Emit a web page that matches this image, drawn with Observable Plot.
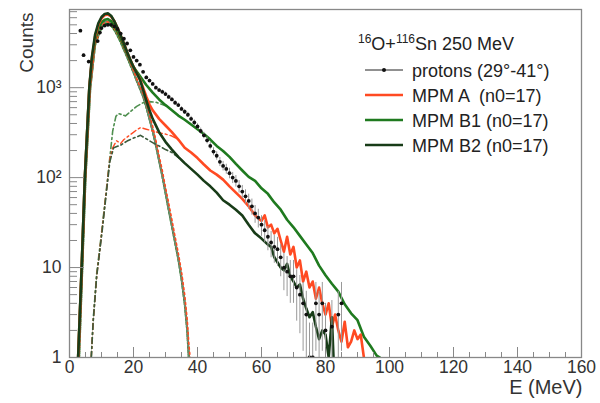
<!DOCTYPE html>
<html>
<head>
<meta charset="utf-8">
<script src="https://cdn.jsdelivr.net/npm/d3@7"></script>
<script src="https://cdn.jsdelivr.net/npm/@observablehq/plot@0.6"></script>
<style>
  html, body { margin: 0; padding: 0; background: white; }
  #chart { position: relative; width: 600px; height: 403px; }
</style>
</head>
<body>
<div id="chart"></div>
<script>
// ---------- data ----------
const xMajor = [0, 20, 40, 60, 80, 100, 120, 140, 160];
const yMajor = [1, 10, 100, 1000];
const yLabels = ["1", "10", "10²", "10³"];

// protons (29°-41°), experimental points
const protonE = [3.4,4.4,6,8.8,9.5,10,11,12,13,14,15,16,17,18,19,20,21,22,23,24,25,26,27,28,29,30,31,32,33,34,35,36,37,38,39,40,41,42,43,44,45,46,47,48,49,50,51,52,53,54,55,56,57,58,59,60,61,62,63,64,65,66,67,68,69,70,71,72,73,74,75,76,77,78,79,80,82,84,85];
const protonN = [4300,2300,1950,3300,4100,4600,4900,5000,5000,4800,4500,4000,3500,3100,2600,2200,2000,1800,1500,1300,1200,1100,1000,940,900,850,790,740,680,640,580,540,500,450,410,370,330,295,260,225,195,175,150,135,125,112,100,92,80,70,62,55,48,40,36,30,26,22,19,17,16,13,10,9,8,8,6,5,4,3,1,1,4,3,4,2,2.2,3,4];

// MPM A (total)
const mpmAE = [2.7,3.8,4.8,6.2,7,8,9,10,11,12,13,14,15,16,17,18,19,20,21,22,23,24,25,26,28,30,32,34,36,38,40,42,44,46,48,50,52,54,56,58,60,61,62,63,64,65,66,67,68,69,70,71,72,73,74,75,76,77,78,79,80,81,82,83,84,85,86,87,88,89,90,91,92];
const mpmAN = [1,10,100,1000,2100,3700,5000,5900,6400,6500,6200,5500,4600,3800,3100,2500,2050,1700,1450,1250,1000,800,650,560,450,380,320,265,215,190,165,140,120,108,95,80,68,58,48,38,33,38,28,30,24,27,20,15,22,14,17,10,12,7,9,6,7,4.5,6,4,3,4,2.2,3,2,1.5,2.5,1.3,1.5,2,1.6,1.8,1];

// MPM B1 (total)
const mpmB1E = [2.7,3.8,4.8,6.2,7,8,9,10,11,12,13,14,15,16,17,18,19,20,22,24,26,28,30,32,34,36,38,40,42,44,46,48,50,52,54,56,58,60,62,64,66,68,70,72,74,76,78,80,82,84,86,88,90,92,94,96,97];
const mpmB1N = [1,10,100,1000,2000,3400,4500,5300,5700,5800,5500,4900,4200,3500,2900,2400,2000,1700,1350,1070,880,740,640,560,490,440,390,345,305,265,225,198,170,142,120,102,92,76,66,53,44,34,28,22.5,18,14.5,10.5,8.2,6.6,5.4,3.9,3.1,2.6,1.7,1.35,1.05,1];

// MPM B2 (total)
const mpmB2E = [2.7,3.8,4.8,6.2,7,8,9,10,11,12,13,14,15,16,17,18,19,20,21,22,23,24,25,26,28,30,32,34,36,38,40,42,44,46,48,50,52,54,56,58,60,62,63,64,66,67,68,69,70,71,72,73,74,75,76,77,78,79,80,81,82,82.5];
const mpmB2N = [1,10,100,1000,2200,3900,5200,6100,6600,6700,6300,5500,4600,3800,3100,2500,2050,1700,1450,1230,950,720,560,450,320,250,205,170,145,125,108,92,80,68,56,50,44,38,30,24,21,18,17,13,10,9.3,11,8,7,6,6.5,4.5,3.5,2.8,3.2,2.2,1.6,2,1.8,1,2.8,1];

// dotted (low-energy) components
const lowE  = [3,4,5,6.5,8,10,11,12,13,14,15,16,17,18,19,20,21,22,23,24,25,26,27,28,29,30,31,32,33,34,35,36,36.8,37.3];
const lowB1 = [1,10,100,1000,3000,4700,5100,5200,4900,4400,3800,3200,2650,2200,1800,1480,1200,980,800,610,450,330,230,155,105,68,44,29,19,12.5,7.5,4,2,1];
const lowB2 = [1,10,100,1000,3100,4900,5400,5500,5200,4600,3900,3300,2700,2250,1850,1500,1210,990,810,620,455,335,232,156,106,69,45,29.5,19.5,12.8,7.7,4.1,2.05,1];
const lowAE = [3,4,5,6.5,8,10,11,12,13,14,15,16,17,18,19,20,21,22,23,24,25,26,27,28,29,30,31,32,33,34,35,36,36.8,37.3,37.7];
const lowA  = [1,10,100,1000,3050,4800,5300,5400,5100,4550,3950,3350,2750,2300,1900,1550,1260,1040,860,680,500,370,260,175,120,78,52,34,22,14.5,9,5,2.6,1.4,1];

// dash-dot (high-energy) components
const preB1E = [6.8,7.4,8.5,10,11.6,12.6,13.5,14.5,15.3,16.5,17.5,19,21,23,25,27,29,30];
const preB1  = [1,2.6,8.6,24,78,166,330,480,515,500,485,540,620,680,700,690,650,630];
const preAE  = [6.8,7.4,8.5,10,11.6,12.6,13.5,14.7,16,17,19,21,22.2,24,26,28,30,32,34];
const preA   = [1,2.5,8,23,75,160,215,257,240,265,300,340,360,345,330,315,305,290,265];
const preB2E = [6.8,7.4,8.5,10,11.6,12.6,13.8,16,18,20,22.2,24,26.4,28,30,32,34,36];
const preB2  = [1,2.5,8,22,72,150,215,230,255,275,295,270,240,225,205,190,168,145];

// ---------- helpers ----------
const cRed = "#ff4a22", cB1 = "#1f7a1f", cB2 = "#183c18";
const zip = (xs, ys) => xs.slice(0, Math.min(xs.length, ys.length)).map((x, i) => ({x, y: ys[i]}));
const protons = zip(protonE, protonN);

const W = 600, H = 403, mL = 69, mR = 19, mT = 9, mB = 46;
const fw = W - mL - mR, fh = H - mT - mB;
const yMinor = [];
for (let k = 0; k < 4; k++) for (let m = 2; m <= 9; m++) { const v = m * 10 ** k; if (v < 7400) yMinor.push(v); }
const xMinor = d3.range(0, 161, 5).filter(v => v % 20 !== 0);

const plot = Plot.plot({
  width: W, height: H,
  marginLeft: mL, marginRight: mR, marginTop: mT, marginBottom: mB,
  style: {fontFamily: "'Liberation Sans', Arial, sans-serif", fontSize: "17.5px", color: "#222", background: "white"},
  x: {domain: [0, 160], label: null},
  y: {type: "log", domain: [1, 7400], label: null},
  marks: [
    // components
    Plot.line(zip(lowE, lowB1), {x: "x", y: "y", stroke: cB1, strokeWidth: 2.2, strokeDasharray: "2,2", clip: true}),
    Plot.line(zip(lowE, lowB2), {x: "x", y: "y", stroke: "#6f8a6f", strokeWidth: 2.2, strokeDasharray: "2,2", strokeDashoffset: 2, clip: true}),
    Plot.line(zip(lowAE, lowA), {x: "x", y: "y", stroke: cRed, strokeWidth: 1.6, strokeDasharray: "2,3", clip: true}),
    Plot.line(zip(preB1E, preB1), {x: "x", y: "y", stroke: "#4f8f4f", strokeWidth: 1.6, strokeDasharray: "6,3,2,3", clip: true}),
    Plot.line(zip(preAE, preA), {x: "x", y: "y", stroke: cRed, strokeWidth: 1.4, strokeDasharray: "6,3,2,3", clip: true}),
    Plot.line(zip(preB2E, preB2), {x: "x", y: "y", stroke: "#3b5a3b", strokeWidth: 1.6, strokeDasharray: "6,3,2,3", clip: true}),
    // totals
    Plot.line(zip(mpmB1E, mpmB1N), {x: "x", y: "y", stroke: cB1, strokeWidth: 2.6, clip: true}),
    Plot.line(zip(mpmAE, mpmAN), {x: "x", y: "y", stroke: cRed, strokeWidth: 2.6, clip: true}),
    Plot.line(zip(mpmB2E, mpmB2N), {x: "x", y: "y", stroke: cB2, strokeWidth: 2.6, clip: true}),
    // data
    Plot.ruleX(protons, {x: "x", y1: d => Math.max(d.y - Math.sqrt(2 * d.y), 0.5), y2: d => d.y + Math.sqrt(2 * d.y), stroke: "#999", strokeWidth: 1, clip: true}),
    Plot.dot(protons, {x: "x", y: "y", r: 1.9, fill: "#111", stroke: "none", clip: true}),
    // ticks (inward)
    Plot.tickY(yMinor, {y: d => d, insetRight: fw - 8, stroke: "#888", strokeWidth: 1}),
    Plot.tickY(yMajor, {y: d => d, insetRight: fw - 15, stroke: "#888", strokeWidth: 1}),
    Plot.tickX(xMinor, {x: d => d, insetTop: fh - 5, stroke: "#888", strokeWidth: 1}),
    Plot.tickX(xMajor, {x: d => d, insetTop: fh - 10, stroke: "#888", strokeWidth: 1}),
    Plot.frame({stroke: "#888", strokeWidth: 1.3}),
    Plot.axisX({ticks: xMajor, tickSize: 0, tickPadding: 3, tickFormat: d => String(d), fill: "#333"}),
    Plot.axisY({ticks: yMajor, tickSize: 0, tickPadding: 8, tickFormat: d => yLabels[yMajor.indexOf(d)], fill: "#333"}),
    Plot.text(["Counts"], {frameAnchor: "top-left", dx: -50, dy: 3, rotate: -90, textAnchor: "end", fontSize: 19, fill: "#333"}),
    Plot.text(["E (MeV)"], {frameAnchor: "bottom-right", dx: 1, dy: 36, textAnchor: "end", fontSize: 20, fill: "#333"})
  ]
});
document.getElementById("chart").appendChild(plot);

// ---------- legend ----------
const svg = d3.select(plot);
const lg = svg.append("g")
  .attr("font-family", "'Liberation Sans', Arial, sans-serif")
  .attr("font-size", 18).attr("fill", "#222").attr("text-anchor", "start");
const t = lg.append("text").attr("x", 358).attr("y", 50).attr("text-anchor", "start");
t.append("tspan").attr("font-size", 12).attr("dy", -7).text("16");
t.append("tspan").attr("dy", 7).text("O+");
t.append("tspan").attr("font-size", 12).attr("dy", -7).text("116");
t.append("tspan").attr("dy", 7).text("Sn 250 MeV");
const entries = [
  {label: "protons (29°-41°)", color: "#222", w: 1, dot: true, y: 70},
  {label: "MPM A  (n0=17)", color: cRed, w: 2.6, y: 95},
  {label: "MPM B1 (n0=17)", color: cB1, w: 2.6, y: 120},
  {label: "MPM B2 (n0=17)", color: cB2, w: 2.6, y: 145}
];
for (const e of entries) {
  lg.append("line").attr("x1", 365).attr("x2", 403).attr("y1", e.y).attr("y2", e.y).attr("stroke", e.color).attr("stroke-width", e.w);
  if (e.dot) lg.append("circle").attr("cx", 384).attr("cy", e.y).attr("r", 2).attr("fill", "#111");
  lg.append("text").attr("x", 412).attr("y", e.y + 6.5).attr("text-anchor", "start").style("white-space", "pre").text(e.label);
}
</script>
</body>
</html>
